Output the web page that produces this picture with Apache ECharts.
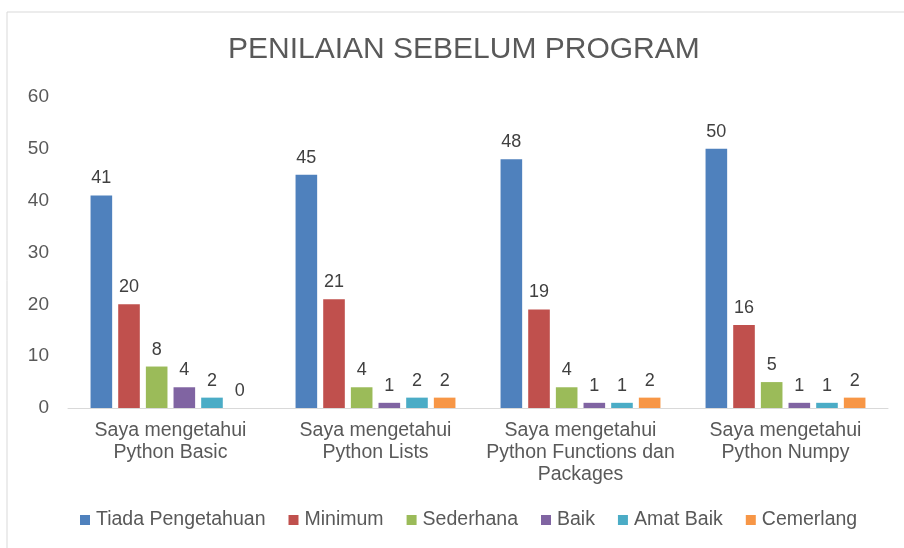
<!DOCTYPE html>
<html>
<head>
<meta charset="utf-8">
<script src="https://cdn.jsdelivr.net/npm/echarts@6/dist/echarts.min.js"></script>
<style>
  html, body { margin: 0; padding: 0; background: #fff; }
  #chart { width: 904px; height: 548px; }
</style>
</head>
<body>
<div id="chart"></div>
<script>
const categories = [
  'Saya mengetahui\nPython Basic',
  'Saya mengetahui\nPython Lists',
  'Saya mengetahui\nPython Functions dan\nPackages',
  'Saya mengetahui\nPython Numpy'
];
const seriesNames = ['Tiada Pengetahuan', 'Minimum', 'Sederhana', 'Baik', 'Amat Baik', 'Cemerlang'];
const tiadaPengetahuan = [41, 45, 48, 50];
const minimum = [20, 21, 19, 16];
const sederhana = [8, 4, 4, 5];
const baik = [4, 1, 1, 1];
const amatBaik = [2, 2, 1, 1];
const cemerlang = [0, 2, 2, 2];
const seriesData = [tiadaPengetahuan, minimum, sederhana, baik, amatBaik, cemerlang];
const colors = ['#4F81BD', '#C0504D', '#9BBB59', '#8064A2', '#4BACC6', '#F79646'];

const chart = echarts.init(document.getElementById('chart'));
const font = '"Liberation Sans", Arial, sans-serif';

const option = {
  color: colors,
  textStyle: { fontFamily: font },
  title: {
    text: 'PENILAIAN SEBELUM PROGRAM',
    left: 223,
    top: 30,
    textStyle: { fontFamily: font, fontSize: 30, fontWeight: 'normal', color: '#595959' }
  },
  graphic: [{
    type: 'rect',
    shape: { x: 7, y: 12, width: 1000, height: 1000 },
    style: { fill: 'none', stroke: '#d9d9d9', lineWidth: 1 },
    silent: true
  }],
  legend: {
    bottom: 13,
    left: 75,
    itemWidth: 10,
    itemHeight: 10,
    itemGap: 23,
    icon: 'rect',
    textStyle: { fontFamily: font, fontSize: 19.5, color: '#595959', padding: [0, 0, 0, 1] },
    data: seriesNames
  },
  grid: { left: 68, right: 16, top: 97, bottom: 140 },
  xAxis: {
    type: 'category',
    data: categories,
    axisTick: { show: false },
    axisLine: { lineStyle: { color: '#d9d9d9' } },
    axisLabel: {
      interval: 0,
      margin: 12,
      fontFamily: font,
      fontSize: 19.5,
      lineHeight: 22,
      color: '#595959'
    }
  },
  yAxis: {
    type: 'value',
    min: 0,
    max: 60,
    interval: 10,
    splitLine: { show: false },
    axisLine: { show: false },
    axisTick: { show: false },
    axisLabel: { margin: 19, fontFamily: font, fontSize: 19, color: '#595959' }
  },
  series: seriesNames.map((name, i) => ({
    name: name,
    type: 'bar',
    data: seriesData[i],
    barGap: '28%',
    barCategoryGap: '22%',
    label: {
      show: true,
      position: 'top',
      distance: 8,
      fontFamily: font,
      fontSize: 18,
      color: '#404040'
    }
  }))
};
chart.setOption(option);
</script>
</body>
</html>
